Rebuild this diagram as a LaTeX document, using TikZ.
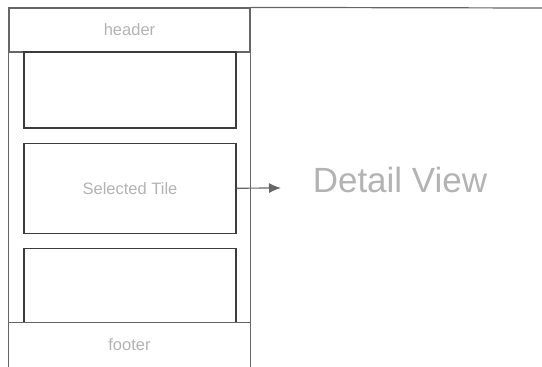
\documentclass[tikz,border=0pt]{standalone}
\usepackage{fontspec}
\setmainfont{Liberation Sans}
\usetikzlibrary{positioning,arrows.meta}
\definecolor{framegray}{HTML}{666666}
\definecolor{tilegray}{HTML}{3C3C3C}
\definecolor{textgray}{HTML}{B3B3B3}
\begin{document}
\begin{tikzpicture}[
                        x=1pt, y=-1pt,
                        node distance=14pt,
                        >={Latex[length=12pt,width=10pt]},
                        bar/.style={rectangle, draw=framegray, line width=1.2pt, minimum width=241pt, minimum height=44pt, inner sep=0pt, text=textgray, font=\fontsize{16.5}{20}\selectfont},
                        tile/.style={rectangle, draw=tilegray, line width=1.2pt, minimum width=212pt, inner sep=0pt, text=textgray, font=\fontsize{16.5}{20}\selectfont}
                    ]
                    \useasboundingbox (0,0) rectangle (542,367);
                    % Blocks
                    \node [bar] (header) at (129.5,30) {header};
                    \node [bar, draw=none] (footer) at (129.5,345) {footer};
                    \node [tile, minimum height=76pt] (tileA) at (130,90) {};
                    \node [tile, minimum height=90pt, below=of tileA] (selected) {Selected Tile};
                    \node [tile, minimum height=74pt, below=of selected] (tileC) {};
                    \node [text=textgray, font=\fontsize{35}{40}\selectfont] (detail) at (400,180) {Detail View};
                    \coordinate (edge) at (542,8);
                    \coordinate (tip) at (281,188);

                    % Frame
                    \draw [framegray, line width=1.2pt] (header.north east) -- (edge);
                    \draw [framegray, line width=1.2pt] (header.north west) -- (footer.south west);
                    \draw [framegray, line width=1.2pt] (header.north east) -- (footer.south east);
                    \draw [framegray, line width=1.2pt] (footer.north west) -- (footer.north east);

                    % Connections
                    \draw [->, framegray, line width=1.2pt] (selected.east) -- (tip);
                \end{tikzpicture}
\end{document}
